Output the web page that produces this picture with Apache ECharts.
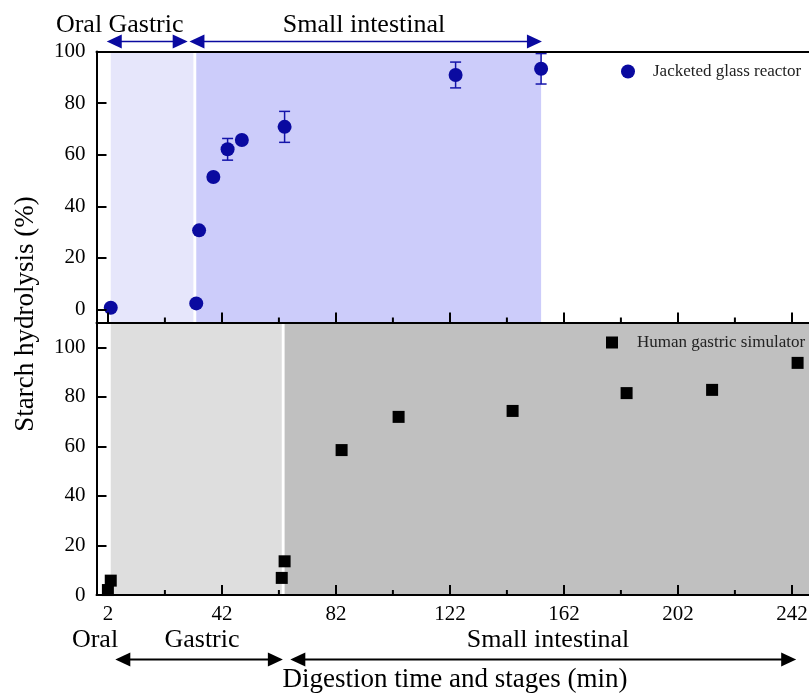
<!DOCTYPE html>
<html>
<head>
<meta charset="utf-8">
<title>Starch hydrolysis during digestion</title>
<script src="https://cdn.jsdelivr.net/npm/echarts@6/dist/echarts.min.js"></script>
<style>
  html, body { margin: 0; padding: 0; background: #fff; }
  #chart { width: 809px; height: 693px; }
</style>
</head>
<body>
<div id="chart"></div>
<script>
// Jacketed glass reactor: sampling time (min), hydrolysis (%) and SD
const reactorTime = [3, 33, 34, 39, 44, 49, 64, 124, 154];
const reactorHydrolysis = [0.7, 2.4, 30.7, 51.4, 62.1, 65.7, 70.8, 90.9, 93.3];
const reactorSD = [0, 0, 0, 0, 4.2, 0, 6.0, 5.0, 5.9];

// Human gastric simulator: sampling time (min), hydrolysis (%)
const simulatorTime = [2, 3, 63, 64, 84, 104, 144, 184, 214, 244];
const simulatorHydrolysis = [2.0, 5.8, 6.9, 13.6, 58.5, 71.9, 74.3, 81.5, 82.8, 93.7];

// Digestion stage spans (min) shaded in each panel
const reactorStages = [[3, 32], [33, 154]];
const simulatorStages = [[3, 63], [64, 250]];

// Stage arrows (min) above and below the panels
const reactorStageArrows = [[1.6, 30.0], [30.6, 154.3]];
const simulatorStageArrows = [[4.6, 63.4], [66, 243.5]];

// Axis ticks
const timeMajorTicks = [2, 42, 82, 122, 162, 202, 242];
const timeMinorTicks = [22, 62, 102, 142, 182, 222];
const hydrolysisTicks = [0, 20, 40, 60, 80, 100];

const FONT = 'Liberation Serif';
const BLUE = '#0a0aa0';
const AXIS_LINE = { show: true, onZero: false, lineStyle: { color: '#000', width: 2 } };

const chart = echarts.init(document.getElementById('chart'));

function timeAxis(gridIndex, opts) {
  return Object.assign({
    type: 'value', gridIndex: gridIndex, min: -2, max: 250, z: 10,
    splitLine: { show: false },
    axisLine: { show: false },
    axisTick: { show: false },
    axisLabel: { show: false }
  }, opts);
}

function hydrolysisAxis(gridIndex, min, max) {
  return {
    type: 'value', gridIndex: gridIndex, min: min, max: max, z: 10,
    splitLine: { show: false },
    axisLine: AXIS_LINE,
    axisTick: { show: true, inside: true, length: 10, customValues: hydrolysisTicks,
                lineStyle: { color: '#000', width: 2 } },
    axisLabel: { show: true, customValues: hydrolysisTicks, margin: 11,
                 fontFamily: FONT, fontSize: 21, color: '#000' }
  };
}

function stageAreas(stages, colors) {
  return stages.map((s, i) => [
    { xAxis: s[0], itemStyle: { color: colors[i], opacity: 1 } },
    { xAxis: s[1] }
  ]);
}

// Short inward minor ticks along the bottom edge of a panel
function minorTickSeries(xAxisIndex, yAxisIndex) {
  return {
    type: 'custom', xAxisIndex: xAxisIndex, yAxisIndex: yAxisIndex, z: 8,
    silent: true, clip: false,
    data: timeMinorTicks.map(t => [t]),
    renderItem: function (params, api) {
      const cs = params.coordSys;
      const x = api.coord([api.value(0), 0])[0];
      const yb = cs.y + cs.height;
      return { type: 'line', shape: { x1: x, y1: yb, x2: x, y2: yb - 5 },
               style: { stroke: '#000', lineWidth: 2 } };
    }
  };
}

const majorTick = { show: true, inside: true, length: 10, customValues: timeMajorTicks,
                    lineStyle: { color: '#000', width: 2 } };

const option = {
  animation: false,
  backgroundColor: '#fff',
  grid: [
    { left: 96.5, top: 51.5, width: 718.2, height: 271, outerBoundsMode: 'none' },
    { left: 96.5, top: 322.5, width: 718.2, height: 272.5, outerBoundsMode: 'none' }
  ],
  xAxis: [
    timeAxis(0, { position: 'bottom', axisLine: AXIS_LINE, axisTick: majorTick }),
    timeAxis(0, { position: 'top', axisLine: AXIS_LINE }),
    timeAxis(1, { position: 'bottom', axisLine: AXIS_LINE, axisTick: majorTick,
                  axisLabel: { show: true, customValues: timeMajorTicks, margin: 9,
                               fontFamily: FONT, fontSize: 21, color: '#000' } })
  ],
  yAxis: [
    hydrolysisAxis(0, -5, 100),
    hydrolysisAxis(1, 0, 110)
  ],
  legend: [
    {
      data: ['Jacketed glass reactor'], left: 621, top: 63, padding: 0,
      itemWidth: 14, itemHeight: 14, icon: 'circle',
      textStyle: { fontFamily: FONT, fontSize: 17, color: '#222', padding: [0, 0, 0, 13] }
    },
    {
      data: ['Human gastric simulator'], left: 606, top: 334, padding: 0,
      itemWidth: 12, itemHeight: 12, icon: 'rect',
      textStyle: { fontFamily: FONT, fontSize: 17, color: '#222', padding: [0, 0, 0, 14] }
    }
  ],
  series: [
    {
      name: 'Jacketed glass reactor', type: 'scatter',
      xAxisIndex: 0, yAxisIndex: 0, z: 5,
      symbol: 'circle', symbolSize: 14,
      itemStyle: { color: BLUE, opacity: 1 },
      data: reactorTime.map((t, i) => [t, reactorHydrolysis[i]]),
      markArea: { silent: true, z: 1, data: stageAreas(reactorStages, ['#e6e6fb', '#ccccfa']) }
    },
    {
      name: 'Reactor SD', type: 'custom',
      xAxisIndex: 0, yAxisIndex: 0, z: 4,
      data: reactorTime.map((t, i) => [t, reactorHydrolysis[i], reactorSD[i]])
                       .filter(d => d[2] > 0),
      renderItem: function (params, api) {
        const x = api.value(0), y = api.value(1), e = api.value(2);
        const hi = api.coord([x, y + e]);
        const lo = api.coord([x, y - e]);
        const hw = 5.5;
        const style = { stroke: '#1414aa', lineWidth: 1.5, fill: null };
        return {
          type: 'group',
          children: [
            { type: 'line', shape: { x1: hi[0], y1: hi[1], x2: lo[0], y2: lo[1] }, style: style },
            { type: 'line', shape: { x1: hi[0] - hw, y1: hi[1], x2: hi[0] + hw, y2: hi[1] }, style: style },
            { type: 'line', shape: { x1: lo[0] - hw, y1: lo[1], x2: lo[0] + hw, y2: lo[1] }, style: style }
          ]
        };
      }
    },
    {
      name: 'Human gastric simulator', type: 'scatter',
      xAxisIndex: 2, yAxisIndex: 1, z: 5,
      symbol: 'rect', symbolSize: 12,
      itemStyle: { color: '#000', opacity: 1 },
      data: simulatorTime.map((t, i) => [t, simulatorHydrolysis[i]]),
      markArea: { silent: true, z: 1, data: stageAreas(simulatorStages, ['#dedede', '#c0c0c0']) }
    },
    minorTickSeries(0, 0),
    minorTickSeries(2, 1)
  ]
};

chart.setOption(option);

// Stage labels, axis titles and stage arrows
function arrow(x1, x2, y, color, width) {
  const L = 15, H = 7;
  return [
    { type: 'line', z: 20, shape: { x1: x1 + L - 1, y1: y, x2: x2 - L + 1, y2: y },
      style: { stroke: color, lineWidth: width } },
    { type: 'polygon', z: 20, shape: { points: [[x1, y], [x1 + L, y - H], [x1 + L, y + H]] },
      style: { fill: color } },
    { type: 'polygon', z: 20, shape: { points: [[x2, y], [x2 - L, y - H], [x2 - L, y + H]] },
      style: { fill: color } }
  ];
}

function label(text, x, y, size, rotation) {
  return {
    type: 'text', z: 20, x: x, y: y, rotation: rotation || 0,
    style: { text: text, fontFamily: FONT, fontSize: size, fill: '#000',
             align: 'center', verticalAlign: 'middle' }
  };
}

const toPx = (t, axis) => chart.convertToPixel({ xAxisIndex: axis }, t);

let graphics = [];
reactorStageArrows.forEach(a => {
  graphics = graphics.concat(arrow(toPx(a[0], 0), toPx(a[1], 0), 41.5, BLUE, 1.5));
});
simulatorStageArrows.forEach(a => {
  graphics = graphics.concat(arrow(toPx(a[0], 2), toPx(a[1], 2), 659.5, '#000', 2));
});

graphics.push(
  label('Oral', 79, 25, 26),
  label('Gastric', 146, 25, 26),
  label('Small intestinal', 364, 25, 26),
  label('Oral', 95, 640, 26),
  label('Gastric', 202, 640, 26),
  label('Small intestinal', 548, 640, 26),
  label('Digestion time and stages (min)', 455, 680, 27),
  label('Starch hydrolysis (%)', 26, 314, 27, Math.PI / 2)
);

chart.setOption({ graphic: graphics });
</script>
</body>
</html>
